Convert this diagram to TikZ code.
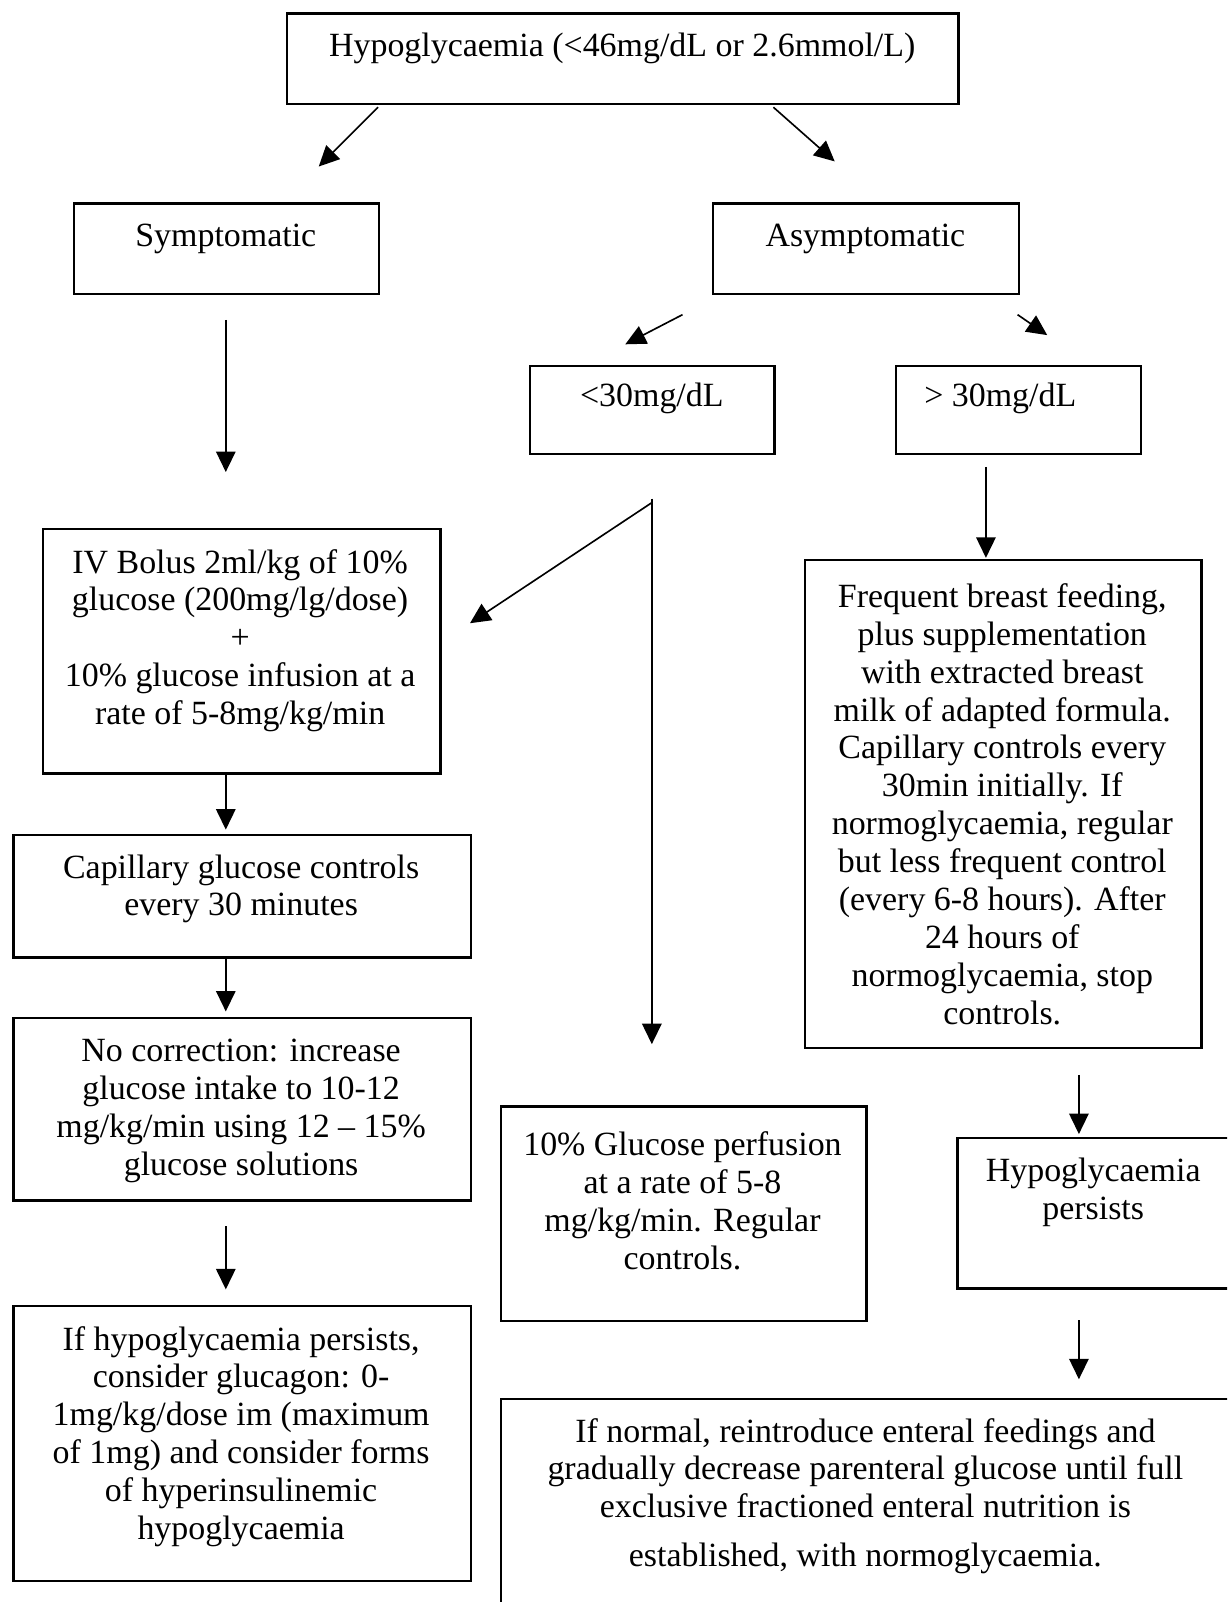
\documentclass[tikz,border=0pt]{standalone}
\usepackage{fontspec}
\setmainfont{Liberation Serif}
\usetikzlibrary{arrows.meta}
\begin{document}
\begin{tikzpicture}[x=0.5pt,y=-0.5pt,
  box/.style={draw, line width=1.1pt, inner sep=0pt, anchor=north west},
  txt/.style={align=center, inner sep=0pt, font=\fontsize{16.6pt}{18.55pt}\selectfont},
  arr/.style={line width=0.8pt, -{Triangle[length=10pt,width=9.5pt]}}]
\path[use as bounding box] (0,0) rectangle (1201,1568);
\clip (0,0) rectangle (1201,1568);
\fill[white] (0,0) rectangle (1201,1568);

% boxes
\node[box, minimum width=328.5pt, minimum height=44.5pt] (top) at (280,12) {};
\node[box, minimum width=149.5pt, minimum height=44.5pt] (sym) at (71,198) {};
\node[box, minimum width=149.5pt, minimum height=44.5pt] (asym) at (697,198) {};
\node[box, minimum width=119.5pt, minimum height=43pt] (lt) at (518,357) {};
\node[box, minimum width=120pt, minimum height=43pt] (gt) at (876,357) {};
\node[box, minimum width=194.5pt, minimum height=119.5pt] (iv) at (41,517) {};
\node[box, minimum width=224pt, minimum height=60pt] (cap) at (12,816) {};
\node[box, minimum width=224pt, minimum height=89.5pt] (nocorr) at (12,995) {};
\node[box, minimum width=224pt, minimum height=134.5pt] (ifhypo) at (12,1277) {};
\node[box, minimum width=194pt, minimum height=239pt] (freq) at (787,547) {};
\node[box, minimum width=139.5pt, minimum height=73.5pt] (persist) at (936,1113) {};
\node[box, minimum width=179pt, minimum height=105pt] (perf) at (489,1082) {};
\node[box, minimum width=363pt, minimum height=106pt] (bottom) at (489,1368) {};

% texts
\node[txt] (topT) at (609,47) {Hypoglycaemia (<46mg/dL or 2.6mmol/L)};
\node[txt] (symT) at (221,234) {Symptomatic};
\node[txt] (asymT) at (847,234) {Asymptomatic};
\node[txt] (ltT) at (638,390) {<30mg/dL};
\node[txt] (gtT) at (979,390) {> 30mg/dL};
\node[txt] (ivT) at (235,627) {IV Bolus 2ml/kg of 10\%\\glucose (200mg/lg/dose)\\+\\10\% glucose infusion at a\\rate of 5-8mg/kg/min};
\node[txt] (capT) at (236,870) {Capillary glucose controls\\every 30 minutes};
\node[txt] (nocorrT) at (236,1087) {No correction: increase\\glucose intake to 10-12\\mg/kg/min using 12 – 15\%\\glucose solutions};
\node[txt] (ifhypoT) at (236,1406) {If hypoglycaemia persists,\\consider glucagon: 0-\\1mg/kg/dose im (maximum\\of 1mg) and consider forms\\of hyperinsulinemic\\hypoglycaemia};
\node[txt] (freqT) at (981,787) {Frequent breast feeding,\\plus supplementation\\with extracted breast\\milk of adapted formula.\\Capillary controls every\\30min initially. If\\normoglycaemia, regular\\but less frequent control\\(every 6-8 hours). After\\24 hours of\\normoglycaemia, stop\\controls.};
\node[txt] (persistT) at (1070,1167) {Hypoglycaemia\\persists};
\node[txt] (perfT) at (668,1175) {10\% Glucose perfusion\\at a rate of 5-8\\mg/kg/min. Regular\\controls.};
\node[txt] (bottomT) at (847,1464) {If normal, reintroduce enteral feedings and\\gradually decrease parenteral glucose until full\\exclusive fractioned enteral nutrition is\\[5pt]established, with normoglycaemia.};

% connector end points
\coordinate (a1s) at (370,105);  \coordinate (a1e) at (312,163);
\coordinate (a2s) at (757,105);  \coordinate (a2e) at (817,158);
\coordinate (a3s) at (221,313);  \coordinate (a3e) at (221,462);
\coordinate (a4s) at (668,308);  \coordinate (a4e) at (612,337);
\coordinate (a5s) at (996,308);  \coordinate (a5e) at (1025,328);
\coordinate (brtop) at (638,488); \coordinate (br) at (638,492);
\coordinate (a6e) at (638,1022); \coordinate (a7e) at (460,610);
\coordinate (a8s) at (965,457);  \coordinate (a8e) at (965,546);
\coordinate (a9s) at (221,756);  \coordinate (a9e) at (221,812);
\coordinate (a10s) at (221,936); \coordinate (a10e) at (221,990);
\coordinate (a11s) at (221,1200); \coordinate (a11e) at (221,1262);
\coordinate (a12s) at (1056,1052); \coordinate (a12e) at (1056,1110);
\coordinate (a13s) at (1056,1292); \coordinate (a13e) at (1056,1350);

% connectors
\draw[arr] (a1s) -- (a1e);
\draw[arr] (a2s) -- (a2e);
\draw[arr] (a3s) -- (a3e);
\draw[arr] (a4s) -- (a4e);
\draw[arr] (a5s) -- (a5e);
\draw[arr] (brtop) -- (a6e);
\draw[arr] (br) -- (a7e);
\draw[arr] (a8s) -- (a8e);
\draw[arr] (a9s) -- (a9e);
\draw[arr] (a10s) -- (a10e);
\draw[arr] (a11s) -- (a11e);
\draw[arr] (a12s) -- (a12e);
\draw[arr] (a13s) -- (a13e);
\end{tikzpicture}
\end{document}
